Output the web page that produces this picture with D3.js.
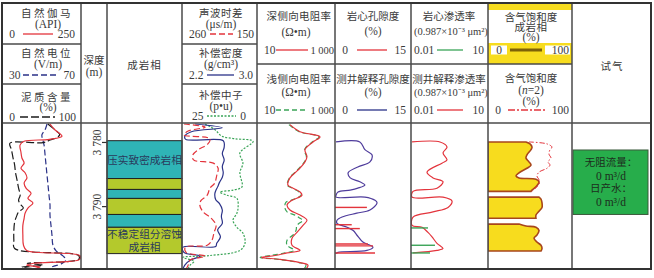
<!DOCTYPE html>
<html>
<head>
<meta charset="utf-8">
<script src="https://cdn.jsdelivr.net/npm/d3@7"></script>
<style>
  body { margin: 0; background: #fff; }
  svg text { font-family: "Liberation Serif", "Noto Sans CJK SC", serif; fill: #3a3a3a; }
</style>
</head>
<body>
<div id="chart"></div>
<script>
// depth window of the log and the labelled depths
const depthRange = [3777.2, 3799.8];
const depthTicks = [3780, 3790];

// track 1: [depth m, value]
const grCurve = [[3777.2,152],[3778.1,167],[3779.1,190],[3779.6,150],[3779.9,70],[3780.5,57],[3781.6,60],[3782.5,63],[3783.3,70],[3784.1,60],[3784.8,73],[3785.6,79],[3786.4,70],[3787.2,76],[3788.0,92],[3788.8,82],[3789.5,98],[3790.3,82],[3791.1,73],[3791.9,70],[3793.0,66],[3794.5,66],[3796.1,68],[3796.9,78],[3797.7,246],[3798.3,246],[3798.9,100],[3799.2,78],[3799.5,120],[3799.8,95]];
const spCurve = [[3777.2,52.8],[3778.1,51.8],[3778.9,50.2],[3779.7,50.7],[3780.5,51.3],[3782.0,51.8],[3783.6,52.3],[3785.2,52.8],[3786.7,53.3],[3788.3,53.8],[3789.8,54.3],[3791.4,54.3],[3793.0,54.8],[3794.5,55.3],[3796.1,55.8],[3797.0,57.5],[3797.8,61],[3798.4,62.4],[3799.0,60],[3799.5,55.5],[3799.8,56]];
const shCurve = [[3777.2,58],[3778.1,67],[3778.8,73],[3779.2,71],[3779.7,61],[3780.1,52],[3780.2,10],[3781.2,12],[3782.5,14],[3783.6,16],[3784.7,17],[3785.9,19],[3787.2,21],[3788.3,23],[3789.1,21],[3789.8,24],[3790.3,27],[3790.9,21],[3791.4,19],[3792.5,16],[3793.8,15],[3795.3,15],[3796.6,16],[3797.7,97],[3798.3,97],[3798.9,32],[3799.2,52],[3799.5,25],[3799.8,45]];

// track 4
const acCurve = [[3777.2,257],[3777.7,226],[3778.3,251],[3778.9,257],[3779.5,219],[3780.3,222],[3781.2,236],[3782.0,244],[3782.8,243],[3783.3,214],[3784.1,207],[3785.2,209],[3786.4,212],[3787.2,219],[3788.3,223],[3789.1,232],[3789.8,234],[3790.9,229],[3791.9,217],[3793.0,210],[3794.1,213],[3795.3,216],[3796.1,223],[3796.4,255],[3797.2,254],[3797.8,226],[3798.4,248],[3799.2,251],[3799.8,254]];
const denCurve = [[3777.2,2.34],[3777.8,2.63],[3778.4,2.30],[3779.1,2.23],[3779.6,2.24],[3779.8,2.64],[3780.8,2.65],[3781.8,2.63],[3782.8,2.65],[3783.8,2.63],[3784.8,2.64],[3785.5,2.63],[3786.3,2.60],[3787.0,2.58],[3787.6,2.56],[3788.1,2.55],[3789.0,2.56],[3789.6,2.60],[3790.6,2.63],[3791.6,2.62],[3792.7,2.63],[3793.7,2.58],[3794.8,2.61],[3795.8,2.57],[3796.3,2.56],[3796.4,2.21],[3797.2,2.22],[3797.8,2.39],[3798.4,2.29],[3799.2,2.23],[3799.8,2.21]];
const cnlCurve = [[3777.2,17.3],[3778.1,14],[3779.1,11.7],[3779.5,7.3],[3779.9,1.3],[3781.7,5.7],[3783.3,4.7],[3784.8,5.7],[3787.0,5],[3787.5,8],[3787.8,12.3],[3788.3,10],[3788.8,6.7],[3790.2,6.3],[3791.1,6.7],[3792.2,8],[3793.3,6.7],[3794.2,4.7],[3795.8,4],[3796.9,5.7],[3797.7,15.7],[3798.0,24.7],[3798.6,21],[3799.2,22.3],[3799.8,23]];

// track 5 (ohm.m)
const rdCurve = [[3777.3,70],[3778.4,127],[3779.2,412],[3780.0,273],[3781.2,170],[3782.3,191],[3783.1,170],[3784.4,112],[3785.6,70],[3786.7,62],[3787.2,84],[3787.8,127],[3788.3,142],[3789.1,79],[3789.8,59],[3790.6,70],[3791.4,127],[3792.2,191],[3793.0,151],[3794.1,106],[3795.0,79],[3796.1,79],[3796.9,127],[3797.3,59],[3797.7,29],[3798.0,13],[3798.3,39],[3798.8,127],[3799.2,203],[3799.8,180]];
const rsCurve = [[3777.3,66],[3778.4,120],[3779.2,390],[3780.0,260],[3781.2,165],[3782.3,185],[3783.1,165],[3784.4,108],[3785.6,68],[3786.7,60],[3787.2,80],[3787.8,120],[3788.3,135],[3789.1,75],[3789.4,55],[3790.3,52],[3790.9,59],[3791.4,94],[3791.9,127],[3792.2,151],[3793.0,106],[3793.8,100],[3794.5,84],[3795.3,59],[3796.1,59],[3796.9,90],[3797.3,52],[3797.7,22],[3798.0,12],[3798.3,35],[3798.8,120],[3799.2,180],[3799.8,160]];

// track 6 (%)
const porLog = [[3780.0,0.2],[3780.0,4.9],[3781.2,5.9],[3782.0,7.3],[3783.1,6.9],[3783.9,4.5],[3784.8,2.6],[3785.6,3.0],[3786.2,4.9],[3786.7,5.9],[3787.2,4.5],[3787.5,3.0],[3787.8,0.6],[3788.3,0.2],[3788.6,0.2],[3788.6,5.9],[3789.1,7.9],[3789.5,8.3],[3790.6,6.9],[3791.1,4.3],[3791.7,1.4],[3792.2,0.4],[3792.7,0.4],[3793.3,2.4],[3793.8,3.6],[3794.5,4.3],[3795.6,5.5],[3796.1,6.9],[3796.4,7.5],[3796.9,6.3],[3797.2,0.6],[3797.4,0.2]];
const porCoreDepth = [3790.2, 3792.9, 3793.5, 3795.9, 3796.2, 3797.3];
const porCoreValue = [6.3, 3.3, 4.9, 6.5, 7.5, 7.9];

// track 7 (0.987e-3 um2)
const permLog = [[3780.0,0.011],[3780.0,0.135],[3780.8,0.253],[3781.7,0.177],[3782.8,0.253],[3783.3,0.161],[3784.7,0.042],[3785.6,0.072],[3786.2,0.177],[3787.2,0.103],[3787.7,0.012],[3788.6,0.011],[3788.6,0.177],[3789.2,0.395],[3790.2,0.277],[3790.9,0.072],[3791.7,0.012],[3793.0,0.011],[3793.3,0.027],[3794.1,0.046],[3794.8,0.066],[3795.8,0.103],[3796.6,0.177],[3796.9,0.103],[3797.3,0.012]];
const permCoreDepth = [3793.4, 3796.1, 3797.3];
const permCoreValue = [0.046, 0.086, 0.055];

// track 8 (%): three gas-bearing intervals and Sg(n=2) over the first
const sgBlocks = [
  [[3780.0,45.2],[3780.3,50],[3780.8,52.4],[3781.2,51.2],[3782.0,46.4],[3782.5,45.2],[3783.1,48.8],[3783.6,51.2],[3784.1,46.4],[3784.8,36.9],[3785.3,33.3],[3785.6,36.9],[3785.8,57.1],[3786.2,60.7],[3787.0,57.1],[3787.5,52.4],[3787.7,51.2]],
  [[3788.6,60.7],[3788.9,63.1],[3789.5,64.3],[3790.2,64.3],[3790.8,60.7],[3791.4,57.1],[3791.9,57.1]],
  [[3792.8,36.9],[3793.1,45.2],[3793.3,57.1],[3793.8,60.7],[3794.5,58.3],[3795.0,54.8],[3795.6,58.3],[3796.1,63.1],[3796.6,64.3],[3797.0,63.1]]
];
const sgN2 = [[3780.0,48.8],[3780.3,70.2],[3780.8,76.2],[3781.2,73.8],[3781.9,72.6],[3782.5,75],[3783.1,71.4],[3783.6,73.8],[3784.1,70.2],[3784.7,60.7],[3785.3,58.3],[3785.9,60.7],[3786.6,60.7],[3787.2,56],[3787.7,52.4]];

// facies column
const faciesTop = [3779.8, 3785.7, 3787.4, 3788.8, 3791.3, 3793.3];
const faciesBottom = [3785.7, 3787.4, 3788.8, 3791.3, 3793.3, 3797.4];
const faciesType = ["dense", "dissolve", "dense", "dissolve", "dense", "dissolve"];
const faciesLabel = [["压实致密成岩相"], [], [], [], [], ["不稳定组分溶蚀", "成岩相"]];

// gas test result
const testTop = 3781.25, testBottom = 3791.3;
const testLines = ["无阻流量：", "0 m³/d", "日产水：", "0 m³/d"];

const width = 654, height = 278;
const cols = [2, 81, 107, 182, 257, 335, 411, 488, 572, 651];
const yTop = 3, yHead = 123, yBot = 269;

const svg = d3.select("#chart").append("svg")
    .attr("width", width)
    .attr("height", height);

svg.append("rect").attr("width", width).attr("height", height).attr("fill", "#fff");

const y = d3.scaleLinear().domain(depthRange).range([124, yBot]);
const trk = i => [cols[i], cols[i + 1]];

const xGR = d3.scaleLinear().domain([0, 250]).range(trk(0));
const xSP = d3.scaleLinear().domain([30, 70]).range(trk(0));
const xSH = d3.scaleLinear().domain([0, 100]).range(trk(0));
const xAC = d3.scaleLinear().domain([260, 150]).range(trk(3));
const xDEN = d3.scaleLinear().domain([2.2, 3.0]).range(trk(3));
const xCNL = d3.scaleLinear().domain([25, 0]).range(trk(3));
const xRes = d3.scaleLog().domain([10, 1000]).range(trk(4));
const xPor = d3.scaleLinear().domain([0, 15]).range(trk(5));
const xPerm = d3.scaleLog().domain([0.01, 10]).range(trk(6));
const xSg = d3.scaleLinear().domain([0, 100]).range(trk(7));

const red = "#e3343c", navy = "#2b3288", green = "#3aa457", black = "#1c1c1c", violet = "#4f3c9c";
const yellow = "#f7dc1e", brown = "#a8461c", olive = "#7d6208";
const teal = "#2fb4b6", lime = "#b4c92c";

// clip each track to its data area
const defs = svg.append("defs");
[0, 3, 4, 5, 6, 7].forEach(i => {
    defs.append("clipPath").attr("id", "clip" + i)
        .append("rect")
        .attr("x", cols[i]).attr("y", yHead)
        .attr("width", cols[i + 1] - cols[i]).attr("height", yBot - yHead);
});
const track = i => svg.append("g").attr("clip-path", `url(#clip${i})`);

function curve(g, data, xs, color, dash, w) {
    const line = d3.line()
        .x(d => xs(d[1]))
        .y(d => y(d[0]))
        .curve(d3.curveCatmullRom.alpha(0.5));
    g.append("path").datum(data)
        .attr("d", line)
        .attr("fill", "none")
        .attr("stroke", color)
        .attr("stroke-width", w || 1.2)
        .attr("stroke-dasharray", dash || null);
}

const isCJK = s => /[\u4e00-\u9fff]/.test(s);

function label(x, yy, txt, o = {}) {
    return svg.append("text")
        .attr("x", x).attr("y", yy)
        .attr("text-anchor", o.anchor || "middle")
        .attr("dominant-baseline", "central")
        .attr("font-size", o.size || (isCJK(txt) ? 10.5 : 11.5))
        .attr("letter-spacing", o.ls || null)
        .text(txt);
}

function legendLine(x0, x1, yy, color, dash, w) {
    svg.append("line")
        .attr("x1", x0).attr("x2", x1).attr("y1", yy).attr("y2", yy)
        .attr("stroke", color)
        .attr("stroke-width", w || 1.3)
        .attr("stroke-dasharray", dash || null);
}

// ---- header ----
svg.append("rect").attr("x", cols[7]).attr("y", yTop).attr("width", cols[8] - cols[7]).attr("height", 7).attr("fill", yellow);
svg.append("rect").attr("x", cols[7]).attr("y", 43).attr("width", cols[8] - cols[7]).attr("height", 21).attr("fill", yellow);
svg.append("rect").attr("x", 491).attr("y", 45.5).attr("width", 16).attr("height", 9).attr("fill", "#fff");
svg.append("rect").attr("x", 545).attr("y", 45.5).attr("width", 25).attr("height", 9).attr("fill", "#fff");

// track 1 header
label(47, 13, "自然伽马", {ls: 2.5});
label(48, 24, "(API)");
label(12, 34, "0"); legendLine(23, 53, 34, red); label(75, 34, "250", {anchor: "end"});
label(47, 53, "自然电位", {ls: 2.5});
label(48, 64, "(V/m)");
label(9, 75, "30", {anchor: "start"}); legendLine(23, 57, 75, navy, "6,3"); label(75, 75, "70", {anchor: "end"});
label(47, 97, "泥质含量", {ls: 2.5});
label(48, 107, "(%)");
label(12, 117, "0"); legendLine(20, 55, 117, black, "8,3"); label(76, 117, "100", {anchor: "end"});

label(94, 60, "深度");
label(94, 72, "(m)");
label(144.5, 65, "成岩相", {ls: 1});

// track 4 header
label(221, 13, "声波时差", {ls: 0.5});
label(221, 24, "(μs/m)");
label(189, 34, "260", {anchor: "start"}); legendLine(210, 233, 34, red, "6,3"); label(254, 34, "150", {anchor: "end"});
label(221, 53, "补偿密度", {ls: 0.5});
label(221, 64, "(g/cm³)");
label(189, 75, "2.2", {anchor: "start"}); legendLine(207, 234, 75, navy); label(253, 75, "3.0", {anchor: "end"});
label(221, 95, "补偿中子", {ls: 0.5});
label(221, 106, "(p•u)");
label(192, 116, "25", {anchor: "start"}); legendLine(207, 236, 116, green, "2,1.5"); label(246, 116, "0", {anchor: "end"});

// track 5 header
label(299, 16, "深侧向电阻率", {ls: 0.3});
label(296, 32, "(Ω•m)");
label(264, 50, "10", {anchor: "start"}); legendLine(276, 308, 50, red); label(334, 50, "1 000", {anchor: "end", size: 10.5});
label(299, 79, "浅侧向电阻率", {ls: 0.3});
label(296, 92, "(Ω•m)");
label(264, 110, "10", {anchor: "start"}); legendLine(276, 308, 110, green, "5,3"); label(334, 110, "1 000", {anchor: "end", size: 10.5});

// track 6 header
label(373, 16, "岩心孔隙度");
label(373, 31, "(%)");
label(345, 50, "0"); legendLine(357, 387, 50, red); label(406, 50, "15", {anchor: "end"});
label(373, 79, "测井解释孔隙度");
label(373, 92, "(%)");
label(345, 110, "0"); legendLine(357, 387, 110, navy); label(406, 110, "15", {anchor: "end"});

// track 7 header
label(449, 16, "岩心渗透率");
label(451, 31, "(0.987×10⁻³ μm²)", {size: 10.5});
label(414, 50, "0.01", {anchor: "start"}); legendLine(437, 463, 50, green); label(484, 50, "10", {anchor: "end"});
label(449, 79, "测井解释渗透率");
label(451, 92, "(0.987×10⁻³ μm²)", {size: 10.5});
label(414, 110, "0.01", {anchor: "start"}); legendLine(437, 463, 110, red); label(484, 110, "10", {anchor: "end"});

// track 8 header
label(531, 17, "含气饱和度");
label(531, 27, "成岩相", {ls: 0.5});
label(531, 37, "(%)");
label(499, 50, "0"); legendLine(510, 542, 50, olive, null, 3); label(569, 50, "100", {anchor: "end"});
label(531, 78, "含气饱和度");
const n2 = label(531, 90, "(");
n2.append("tspan").attr("font-style", "italic").text("n");
n2.append("tspan").text("=2)");
label(531, 101, "(%)");
label(498, 110, "0"); legendLine(508, 545, 110, red, "7,2,2,2"); label(569, 110, "100", {anchor: "end"});

label(612, 66, "试气", {ls: 1});

// ---- data area ----
// track 1
const t1 = track(0);
curve(t1, spCurve, xSP, navy, "6,3");
curve(t1, shCurve, xSH, black, "8,3");
curve(t1, grCurve, xGR, red);

// depth axis
const fmt = d3.formatLocale({decimal: ".", thousands: " ", grouping: [3], currency: ["", ""]}).format(",");
const axis = svg.append("g")
    .attr("transform", `translate(${cols[2]},0)`)
    .call(d3.axisLeft(y).tickValues(depthTicks).tickSize(5).tickFormat(fmt));
axis.select(".domain").remove();
axis.selectAll(".tick line").attr("stroke", "#333").attr("stroke-width", 1.2);
axis.selectAll(".tick text")
    .attr("transform", "rotate(-90)")
    .attr("x", 0).attr("y", -10).attr("dy", "0.35em")
    .attr("text-anchor", "middle")
    .attr("font-size", 11.5)
    .attr("font-family", "Liberation Serif")
    .attr("fill", "#3a3a3a");

// facies blocks
const fg = svg.append("g");
faciesTop.forEach((t, i) => {
    fg.append("rect")
        .attr("x", cols[2]).attr("y", y(t))
        .attr("width", cols[3] - cols[2]).attr("height", y(faciesBottom[i]) - y(t))
        .attr("fill", faciesType[i] === "dense" ? teal : lime)
        .attr("stroke", "#222").attr("stroke-width", 1);
    const lines = faciesLabel[i];
    const mid = (y(t) + y(faciesBottom[i])) / 2;
    lines.forEach((s, j) => {
        fg.append("text")
            .attr("x", (cols[2] + cols[3]) / 2)
            .attr("y", mid + (j - (lines.length - 1) / 2) * 12.5)
            .attr("text-anchor", "middle").attr("dominant-baseline", "central")
            .attr("font-size", 10.7)
            .style("fill", "#2a3a5c")
            .text(s);
    });
});

// track 4
const t4 = track(3);
curve(t4, cnlCurve, xCNL, green, "2,1.5");
curve(t4, denCurve, xDEN, navy);
curve(t4, acCurve, xAC, red, "6,3");

// track 5
const t5 = track(4);
curve(t5, rsCurve, xRes, green, "5,3");
curve(t5, rdCurve, xRes, red);

// track 6
const t6 = track(5);
curve(t6, porLog, xPor, violet);
porCoreDepth.forEach((d, i) => {
    t6.append("line")
        .attr("x1", xPor(0)).attr("x2", xPor(porCoreValue[i]))
        .attr("y1", y(d)).attr("y2", y(d))
        .attr("stroke", red).attr("stroke-width", 1.4);
});

// track 7
const t7 = track(6);
curve(t7, permLog, xPerm, red);
permCoreDepth.forEach((d, i) => {
    t7.append("line")
        .attr("x1", xPerm(0.01)).attr("x2", xPerm(permCoreValue[i]))
        .attr("y1", y(d)).attr("y2", y(d))
        .attr("stroke", green).attr("stroke-width", 1.4);
});

// track 8
const t8 = track(7);
const sgArea = d3.area()
    .x0(xSg(0))
    .x1(d => xSg(d[1]))
    .y(d => y(d[0]))
    .curve(d3.curveCatmullRom.alpha(0.5));
sgBlocks.forEach(b => {
    t8.append("path").datum(b)
        .attr("d", sgArea)
        .attr("fill", yellow)
        .attr("stroke", brown).attr("stroke-width", 1.6);
});
curve(t8, sgN2, xSg, red, "5,2,1.5,2", 1);

// gas test box
svg.append("rect")
    .attr("x", 573).attr("y", y(testTop))
    .attr("width", 75).attr("height", y(testBottom) - y(testTop))
    .attr("fill", "#27ad4b").attr("stroke", "#3d5a3d").attr("stroke-width", 1);
const tMid = (y(testTop) + y(testBottom)) / 2;
testLines.forEach((s, j) => {
    svg.append("text")
        .attr("x", 611).attr("y", tMid + (j - 1.5) * 13)
        .attr("text-anchor", "middle").attr("dominant-baseline", "central")
        .attr("font-size", isCJK(s) ? 10.5 : 11.5)
        .style("fill", "#1d2d1d")
        .text(s);
});

// ---- grid ----
const grid = svg.append("g").attr("stroke", "#4a4a4a").attr("stroke-width", 1.5);
cols.slice(1, -1).forEach(cx => {
    grid.append("line").attr("x1", cx).attr("x2", cx).attr("y1", yTop).attr("y2", yBot);
});
grid.append("line").attr("x1", cols[0]).attr("x2", cols[9]).attr("y1", yHead).attr("y2", yHead);
[[0, 44], [0, 84], [3, 44], [3, 84], [4, 64], [5, 64], [6, 64], [7, 64]].forEach(([i, yy]) => {
    grid.append("line").attr("x1", cols[i]).attr("x2", cols[i + 1]).attr("y1", yy).attr("y2", yy);
});
svg.append("rect")
    .attr("x", cols[0]).attr("y", yTop)
    .attr("width", cols[9] - cols[0]).attr("height", yBot - yTop)
    .attr("fill", "none").attr("stroke", "#333").attr("stroke-width", 2);
</script>
</body>
</html>
